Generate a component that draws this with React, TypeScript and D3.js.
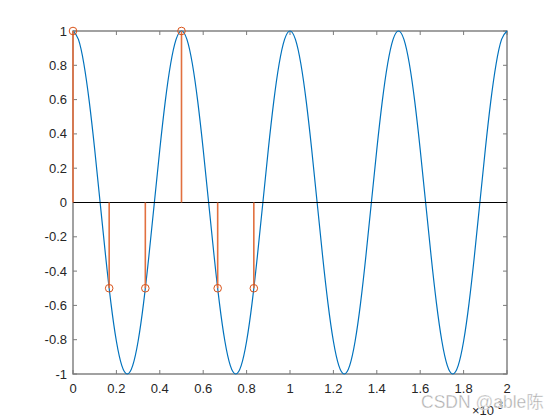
import React from "react";
import * as d3 from "d3";

// Continuous signal, time in units of 1e-3 s (step 0.025)
const curveT: number[] = [
  0, 0.025, 0.05, 0.075, 0.1, 0.125, 0.15, 0.175, 0.2, 0.225,
  0.25, 0.275, 0.3, 0.325, 0.35, 0.375, 0.4, 0.425, 0.45, 0.475,
  0.5, 0.525, 0.55, 0.575, 0.6, 0.625, 0.65, 0.675, 0.7, 0.725,
  0.75, 0.775, 0.8, 0.825, 0.85, 0.875, 0.9, 0.925, 0.95, 0.975,
  1.0, 1.025, 1.05, 1.075, 1.1, 1.125, 1.15, 1.175, 1.2, 1.225,
  1.25, 1.275, 1.3, 1.325, 1.35, 1.375, 1.4, 1.425, 1.45, 1.475,
  1.5, 1.525, 1.55, 1.575, 1.6, 1.625, 1.65, 1.675, 1.7, 1.725,
  1.75, 1.775, 1.8, 1.825, 1.85, 1.875, 1.9, 1.925, 1.95, 1.975,
  2.0,
];
const curveV: number[] = [
  1, 0.951, 0.809, 0.588, 0.309, 0, -0.309, -0.588, -0.809, -0.951,
  -1, -0.951, -0.809, -0.588, -0.309, 0, 0.309, 0.588, 0.809, 0.951,
  1, 0.951, 0.809, 0.588, 0.309, 0, -0.309, -0.588, -0.809, -0.951,
  -1, -0.951, -0.809, -0.588, -0.309, 0, 0.309, 0.588, 0.809, 0.951,
  1, 0.951, 0.809, 0.588, 0.309, 0, -0.309, -0.588, -0.809, -0.951,
  -1, -0.951, -0.809, -0.588, -0.309, 0, 0.309, 0.588, 0.809, 0.951,
  1, 0.951, 0.809, 0.588, 0.309, 0, -0.309, -0.588, -0.809, -0.951,
  -1, -0.951, -0.809, -0.588, -0.309, 0, 0.309, 0.588, 0.809, 0.951,
  1,
];

// Sampled stems
const stemT: number[] = [0, 0.1667, 0.3333, 0.5, 0.6667, 0.8333];
const stemV: number[] = [1, -0.5, -0.5, 1, -0.5, -0.5];

const xTicks: number[] = [0, 0.2, 0.4, 0.6, 0.8, 1, 1.2, 1.4, 1.6, 1.8, 2];
const yTicks: number[] = [-1, -0.8, -0.6, -0.4, -0.2, 0, 0.2, 0.4, 0.6, 0.8, 1];

const W = 560;
const H = 420;
const L = 73;
const R = 507;
const T = 31;
const B = 374;

export default function App() {
  const x = d3.scaleLinear().domain([0, 2]).range([L, R]);
  const y = d3.scaleLinear().domain([-1, 1]).range([B, T]);
  const pts = curveT.map((t, i) => [t, curveV[i]] as [number, number]);
  const line = d3
    .line<[number, number]>()
    .x((d) => x(d[0]))
    .y((d) => y(d[1]))
    .curve(d3.curveNatural);
  const axisColor = "#7a7a7a";
  const textColor = "#262626";
  const font = "'Liberation Sans', Arial, Helvetica, sans-serif";
  const tl = 4;
  return (
    <svg
      width={W}
      height={H}
      style={{ position: "absolute", left: 0, top: 0, background: "#fff" }}
      fontFamily={font}
    >
      <rect x={0} y={0} width={W} height={H} fill="#fff" />
      {/* box */}
      <rect x={L} y={T} width={R - L} height={B - T} fill="none" stroke={axisColor} strokeWidth={1.4} />
      {xTicks.map((t, i) => (
        <g key={"x" + i}>
          <line x1={x(t)} x2={x(t)} y1={B} y2={B - tl} stroke={axisColor} strokeWidth={1} />
          <line x1={x(t)} x2={x(t)} y1={T} y2={T + tl} stroke={axisColor} strokeWidth={1} />
          <text x={x(t)} y={393} textAnchor="middle" fontSize={13} fill={textColor}>
            {String(t)}
          </text>
        </g>
      ))}
      {yTicks.map((t, i) => (
        <g key={"y" + i}>
          <line x1={L} x2={L + tl} y1={y(t)} y2={y(t)} stroke={axisColor} strokeWidth={1} />
          <line x1={R} x2={R - tl} y1={y(t)} y2={y(t)} stroke={axisColor} strokeWidth={1} />
          <text x={67} y={y(t) + 4.5} textAnchor="end" fontSize={13} fill={textColor}>
            {String(Number(t.toFixed(1)))}
          </text>
        </g>
      ))}
      <path d={line(pts) || ""} fill="none" stroke="#0072BD" strokeWidth={1.2} />
      {/* stem baseline */}
      <line x1={L} x2={R} y1={y(0)} y2={y(0)} stroke="#000" strokeWidth={1} />
      {stemT.map((t, i) => (
        <g key={i}>
          <line
            x1={x(t)}
            x2={x(t)}
            y1={y(0)}
            y2={y(stemV[i])}
            stroke="#E2703F"
            strokeWidth={1.6}
          />
          <circle
            cx={x(t)}
            cy={y(stemV[i])}
            r={3.8}
            fill="none"
            stroke="#D95319"
            strokeWidth={1}
          />
        </g>
      ))}
      <text x={472} y={415} fontSize={13} fill={textColor}>
        ×10
        <tspan dy={-6} fontSize={10}>-3</tspan>
      </text>
      <text
        x={421}
        y={408}
        fontSize={17.5}
        fill="#ababab"
        stroke="#fff"
        strokeWidth={0.4}
        fontFamily="'Liberation Sans', 'Noto Sans CJK SC', sans-serif"
      >
        CSDN @able陈
      </text>
    </svg>
  );
}
